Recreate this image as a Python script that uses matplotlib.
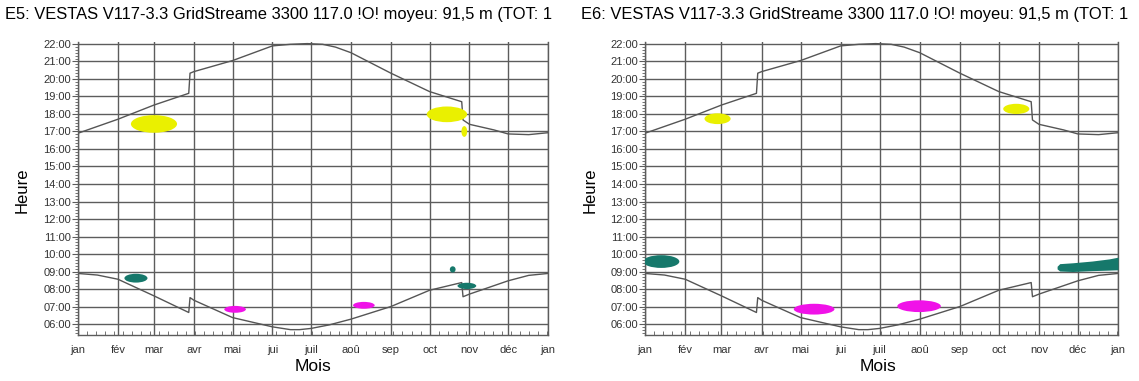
import matplotlib
matplotlib.use("Agg")
import matplotlib.pyplot as plt
from matplotlib.patches import Ellipse
from matplotlib.ticker import MultipleLocator, FixedLocator
import numpy as np

plt.rcParams['font.family'] = ['Liberation Sans', 'DejaVu Sans']

#--------data-----------------------------------#
month_days = [0, 31, 59, 90, 120, 151, 181, 212, 243, 273, 304, 334, 365]
month_labels = ["jan", "fév", "mar", "avr", "mai", "jui", "juil", "aoû",
                "sep", "oct", "nov", "déc", "jan"]
hours = list(range(6, 23))

# sunset (upper curve), with the summer time jumps
sunset_days = [0, 31, 59, 86, 87, 90, 120, 151, 165, 178, 190, 200, 212, 243,
               273, 298, 299, 304, 323, 334, 350, 365]
sunset_hours = [16.9, 17.7, 18.51, 19.18, 20.33, 20.42, 21.05, 21.89, 21.98, 22.02,
                21.98, 21.82, 21.5, 20.33, 19.28, 18.7, 17.66, 17.41, 17.09,
                16.86, 16.82, 16.93]

# sunrise (lower curve)
sunrise_days = [0, 15, 31, 59, 86, 87, 90, 120, 151, 165, 172, 181, 195, 212,
                243, 273, 298, 299, 304, 334, 350, 365]
sunrise_hours = [8.89, 8.8, 8.56, 7.61, 6.66, 7.51, 7.36, 6.37, 5.84, 5.68, 5.68,
                 5.75, 5.95, 6.28, 7.0, 7.93, 8.37, 7.56, 7.71, 8.47, 8.78, 8.89]

titles = ["E5: VESTAS V117-3.3 GridStreame 3300 117.0 !O! moyeu: 91,5 m (TOT: 1",
          "E6: VESTAS V117-3.3 GridStreame 3300 117.0 !O! moyeu: 91,5 m (TOT: 1"]

# shadow periods: centre day, centre hour, span in days, span in hours
e5_day = [59, 286.5, 300, 45, 291, 302, 122, 222]
e5_hour = [17.43, 17.98, 17.0, 8.62, 9.12, 8.18, 6.84, 7.07]
e5_span_d = [32, 28, 4, 16, 4, 13, 15, 15]
e5_span_h = [0.9, 0.8, 0.55, 0.45, 0.32, 0.32, 0.35, 0.35]
e5_col = ["y", "y", "y", "t", "t", "t", "m", "m"]

e6_day = [56, 286.5, 12.5, 130.5, 211.5]
e6_hour = [17.73, 18.29, 9.57, 6.85, 7.02]
e6_span_d = [18, 18, 25, 28, 30]
e6_span_h = [0.55, 0.52, 0.65, 0.55, 0.6]
e6_col = ["y", "y", "t", "m", "m"]

# E6 december band (sloping)
e6_dec_days = [318, 320, 330, 345, 358, 365]
e6_dec_low = [9.15, 9.03, 9.0, 9.05, 9.08, 9.1]
e6_dec_high = [9.3, 9.45, 9.5, 9.6, 9.72, 9.82]
#--------end of data----------------#

colors = {"y": "#eaf000", "t": "#16786b", "m": "#f012e8"}
gridcol = "#5c5c5c"

fig = plt.figure(figsize=(11.39, 3.81), dpi=100)
ax1 = fig.add_axes([78/1139, 0.121, 470/1139, 0.7696])
ax2 = fig.add_axes([645/1139, 0.121, 473/1139, 0.7696])

def setup(ax):
    ax.set_xlim(0, 365)
    ax.set_ylim(5.38, 22.13)
    ax.xaxis.set_major_locator(FixedLocator(month_days))
    ax.set_xticklabels(month_labels)
    ax.xaxis.set_minor_locator(MultipleLocator(7))
    ax.yaxis.set_major_locator(FixedLocator(hours))
    ax.set_yticklabels(["%02d:00" % h for h in hours])
    ax.yaxis.set_minor_locator(MultipleLocator(1/6))
    ax.tick_params(axis='x', which='major', length=0, pad=7, labelsize=8, labelcolor="#333333")
    ax.tick_params(axis='x', which='minor', direction='in', length=3, color=gridcol)
    ax.tick_params(axis='y', which='major', direction='out', length=4, color=gridcol,
                   labelsize=8, labelcolor="#333333", pad=1)
    ax.tick_params(axis='y', which='minor', direction='out', length=2, color=gridcol)
    ax.grid(True, which='major', color=gridcol, lw=1.0)
    ax.set_axisbelow(True)
    ax.spines["top"].set_visible(False)
    for s in ["left", "bottom", "right"]:
        ax.spines[s].set_color(gridcol)
        ax.spines[s].set_linewidth(1.0)
    ax.plot(sunset_days, sunset_hours, color="#555555", lw=1.0, zorder=2)
    ax.plot(sunrise_days, sunrise_hours, color="#555555", lw=1.0, zorder=2)

def blobs(ax, days, hrs, wd, hh, cols):
    for d, h, w, e, c in zip(days, hrs, wd, hh, cols):
        ax.add_patch(Ellipse((d, h), w * 1.12, e * 1.12, facecolor=colors[c],
                             edgecolor='none', zorder=3))

setup(ax1)
setup(ax2)
blobs(ax1, e5_day, e5_hour, e5_span_d, e5_span_h, e5_col)
blobs(ax2, e6_day, e6_hour, e6_span_d, e6_span_h, e6_col)
ax2.fill_between(e6_dec_days, e6_dec_low, e6_dec_high, color=colors["t"], lw=0, zorder=3)

fig.text(5/1139, 0.961, titles[0], fontsize=11.9, va='center', ha='left')
fig.text(581/1139, 0.961, titles[1], fontsize=11.9, va='center', ha='left')
fig.text(22/1139, 0.50, "Heure", rotation=90, fontsize=12, va='center', ha='center')
fig.text(590/1139, 0.50, "Heure", rotation=90, fontsize=12, va='center', ha='center')
fig.text(313/1139, 0.038, "Mois", fontsize=12.5, va='center', ha='center')
fig.text(878/1139, 0.038, "Mois", fontsize=12.5, va='center', ha='center')

fig.savefig("out.png", dpi=100)
